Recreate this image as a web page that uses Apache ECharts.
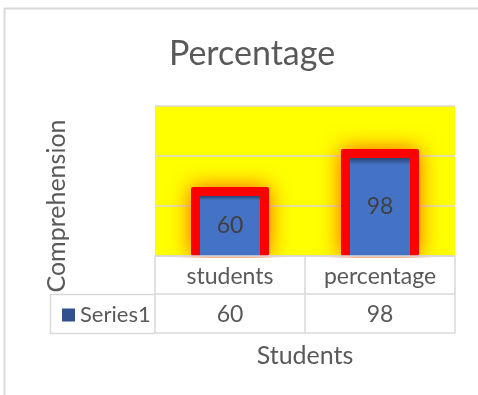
<!DOCTYPE html>
<html>
<head>
<meta charset="utf-8">
<script src="https://cdn.jsdelivr.net/npm/echarts@6/dist/echarts.min.js"></script>
<style>
  html, body { margin: 0; padding: 0; background: #fff; }
  #chart { width: 478px; height: 395px; }
</style>
</head>
<body>
<div id="chart"></div>
<script>
// data
const categories = ['students', 'percentage'];
const series1 = [60, 98];
const seriesName = 'Series1';
const yMin = 0, yMax = 150, yStep = 50;

const gray = '#d9d9d9';
const textColor = '#595959';
const font = 'Lato, "Noto Sans", sans-serif';

let chart = echarts.init(document.getElementById('chart'));

// red/orange glow around a bar, placed with the chart's own scales
function renderGlow(params, api) {
  const top = api.coord([api.value(0), api.value(1)]);
  const base = api.coord([api.value(0), 0]);
  const w = api.size([1, 0])[0] * 0.4 + 18;
  return {
    type: 'rect',
    shape: { x: top[0] - w / 2, y: top[1] - 9, width: w, height: base[1] - top[1] + 9, r: 2 },
    style: { fill: '#ff0000', shadowBlur: 22, shadowColor: '#ff5a00' }
  };
}

chart.setOption({
  animation: false,
  backgroundColor: '#fff',
  textStyle: { fontFamily: font },
  title: {
    text: 'Percentage',
    left: 247,
    top: 32,
    textAlign: 'center',
    textStyle: { fontSize: 34, fontWeight: 'normal', color: textColor, fontFamily: font }
  },
  legend: {
    data: [{ name: seriesName, itemStyle: { color: '#2f528f' } }],
    left: 57,
    top: 299,
    icon: 'rect',
    itemWidth: 13,
    itemHeight: 13,
    itemGap: 5,
    textStyle: { fontSize: 22, color: textColor, fontFamily: font }
  },
  grid: {
    left: 155, right: 23, top: 106, bottom: 139,
    show: true, backgroundColor: '#ffff00', borderWidth: 0
  },
  xAxis: [
    {
      type: 'category',
      data: categories,
      z: 5,
      axisLine: { lineStyle: { color: gray, width: 1.5 } },
      axisTick: { show: true, interval: 0, length: 77, lineStyle: { color: gray, width: 1.5 } },
      axisLabel: { interval: 0, margin: 9, fontSize: 23, color: textColor, fontFamily: font }
    },
    {
      type: 'category',
      data: categories,
      position: 'bottom',
      offset: 38,
      z: 5,
      axisLine: { lineStyle: { color: gray, width: 1.5 } },
      axisTick: { show: false },
      axisLabel: {
        interval: 0, margin: 9, fontSize: 23, color: textColor, fontFamily: font,
        formatter: (v, i) => String(series1[i])
      }
    },
    {
      type: 'category',
      data: categories,
      position: 'bottom',
      offset: 77,
      z: 5,
      name: 'Students',
      nameLocation: 'middle',
      nameGap: 10,
      nameTextStyle: { fontSize: 25, color: textColor, fontFamily: font, verticalAlign: 'top' },
      axisLine: { lineStyle: { color: gray, width: 1.5 } },
      axisTick: { show: false },
      axisLabel: { show: false }
    }
  ],
  yAxis: {
    type: 'value',
    min: yMin, max: yMax, interval: yStep,
    name: 'Comprehension',
    nameLocation: 'middle',
    nameGap: 86,
    nameTextStyle: { fontSize: 25, color: textColor, fontFamily: font, padding: [0, 50, 0, 0] },
    axisLine: { show: false },
    axisTick: { show: false },
    axisLabel: { show: false },
    splitLine: { lineStyle: { color: gray, width: 1.5 } }
  },
  series: [
    {
      name: 'glow',
      type: 'custom',
      silent: true,
      z: 1,
      encode: { x: 0, y: 1 },
      data: series1.map((v, i) => [i, v]),
      renderItem: renderGlow
    },
    {
      name: seriesName,
      type: 'bar',
      data: series1,
      barWidth: 60,
      z: 2,
      itemStyle: {
        color: new echarts.graphic.LinearGradient(0, 0, 0, 1, [
          { offset: 0, color: '#2a4575' },
          { offset: 0.07, color: '#4472c4' },
          { offset: 1, color: '#4472c4' }
        ])
      },
      label: {
        show: true,
        position: 'inside',
        fontSize: 23,
        color: '#404040',
        fontFamily: font
      }
    }
  ],
  graphic: [
    // keeps the glow out of the table cells
    { type: 'rect', z: 3, silent: true, shape: { x: 155, y: 258, width: 300, height: 76 }, style: { fill: '#fff' } },
    // left cell of the data table
    { type: 'polyline', z: 5, silent: true,
      shape: { points: [[155, 294.5], [50.5, 294.5], [50.5, 333.5], [155, 333.5]] },
      style: { stroke: gray, lineWidth: 1.5, fill: null } },
    // chart frame
    { type: 'rect', z: 5, silent: true, shape: { x: 4.5, y: 8.5, width: 600, height: 500 },
      style: { stroke: gray, lineWidth: 2, fill: null } },
    // bottom of a text line from the page above
    { type: 'text', z: 5, silent: true, x: 271, y: -20,
      style: { text: 'p', fontSize: 20, fontFamily: '"Liberation Serif", serif', fill: '#000' } }
  ]
});
</script>
</body>
</html>
